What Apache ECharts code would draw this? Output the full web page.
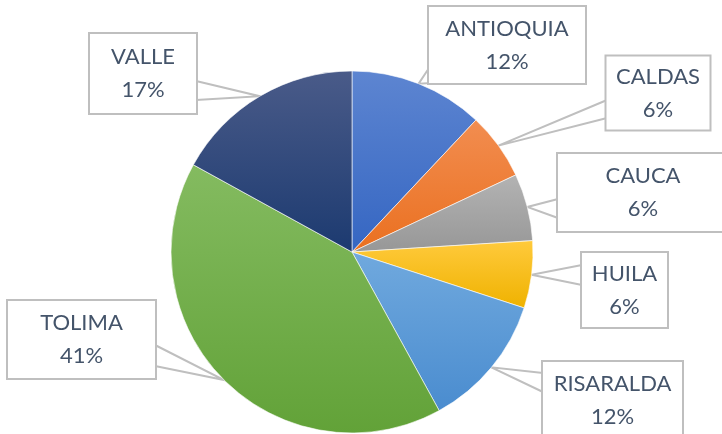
<!DOCTYPE html>
<html>
<head>
<meta charset="utf-8">
<script src="https://cdn.jsdelivr.net/npm/echarts@6/dist/echarts.min.js"></script>
<style>
  html, body { margin: 0; padding: 0; background: #fff; }
  #chart { width: 722px; height: 434px; }
</style>
</head>
<body>
<div id="chart"></div>
<script>
// Departments and their share (%) of the total
const departments = ['ANTIOQUIA', 'CALDAS', 'CAUCA', 'HUILA', 'RISARALDA', 'TOLIMA', 'VALLE'];
const shares = [12, 6, 6, 6, 12, 41, 17];

// Slice fills: top (lighter) and bottom (darker) gradient stops
const colorTop = ['#5d85d1', '#f28d50', '#b3b3b3', '#ffca3c', '#70a9de', '#84bb60', '#4a5b89'];
const colorBottom = ['#3566c2', '#ea7020', '#979797', '#efb200', '#4a8ccf', '#62a238', '#1c3a70'];

// Callout boxes: centre, size, and the two points where the pointer meets the box
const callouts = [
  { cx: 507,   cy: 45,    w: 156, h: 76, a: [429, 68],  b: [432, 83] },
  { cx: 658,   cy: 93,    w: 103, h: 73, a: [607, 100], b: [607, 118] },
  { cx: 643,   cy: 192.5, w: 170, h: 77, a: [558, 199], b: [558, 218] },
  { cx: 624.5, cy: 290,   w: 85,  h: 74, a: [582, 265], b: [582, 285] },
  { cx: 612.5, cy: 400,   w: 139, h: 76, a: [543, 373], b: [543, 392] },
  { cx: 81.5,  cy: 339.5, w: 147, h: 77, a: [155, 345], b: [155, 366] },
  { cx: 143,   cy: 73.5,  w: 106, h: 79, a: [196, 81],  b: [196, 100] }
];

const LINE_H = 33;
const TEXT_SHIFT = 2;

const chart = echarts.init(document.getElementById('chart'), null, { renderer: 'canvas' });

const data = departments.map(function (name, i) {
  const box = callouts[i];
  const padV = (box.h - 2 * LINE_H) / 2;
  return {
    name: name,
    value: shares[i],
    itemStyle: {
      color: new echarts.graphic.LinearGradient(0, 0, 0, 1, [
        { offset: 0, color: colorTop[i] },
        { offset: 1, color: colorBottom[i] }
      ])
    },
    label: {
      width: box.w,
      padding: [padV + TEXT_SHIFT, 0, padV - TEXT_SHIFT, 0]
    }
  };
});

chart.setOption({
  backgroundColor: '#ffffff',
  animation: false,
  series: [{
    type: 'pie',
    center: [352, 252],
    radius: 181,
    startAngle: 90,
    clockwise: true,
    avoidLabelOverlap: false,
    itemStyle: { borderColor: '#ffffff', borderWidth: 0.6 },
    label: {
      show: true,
      position: 'outside',
      formatter: function (p) { return p.name + '\n' + p.value + '%'; },
      fontFamily: 'Lato',
      fontSize: 22,
      lineHeight: LINE_H,
      color: '#44546A',
      align: 'center',
      backgroundColor: '#ffffff',
      borderColor: '#BFBFBF',
      borderWidth: 2
    },
    labelLine: {
      show: true,
      length: 10,
      length2: 10,
      lineStyle: { color: '#BFBFBF', width: 2 }
    },
    labelLayout: function (params) {
      const box = callouts[params.dataIndex];
      const pts = params.labelLinePoints;
      const tip = pts && pts[0];
      const out = { x: box.cx, y: box.cy, align: 'center', verticalAlign: 'middle' };
      if (tip) {
        out.labelLinePoints = [box.a, tip, box.b];
      }
      return out;
    },
    data: data
  }]
});
</script>
</body>
</html>
